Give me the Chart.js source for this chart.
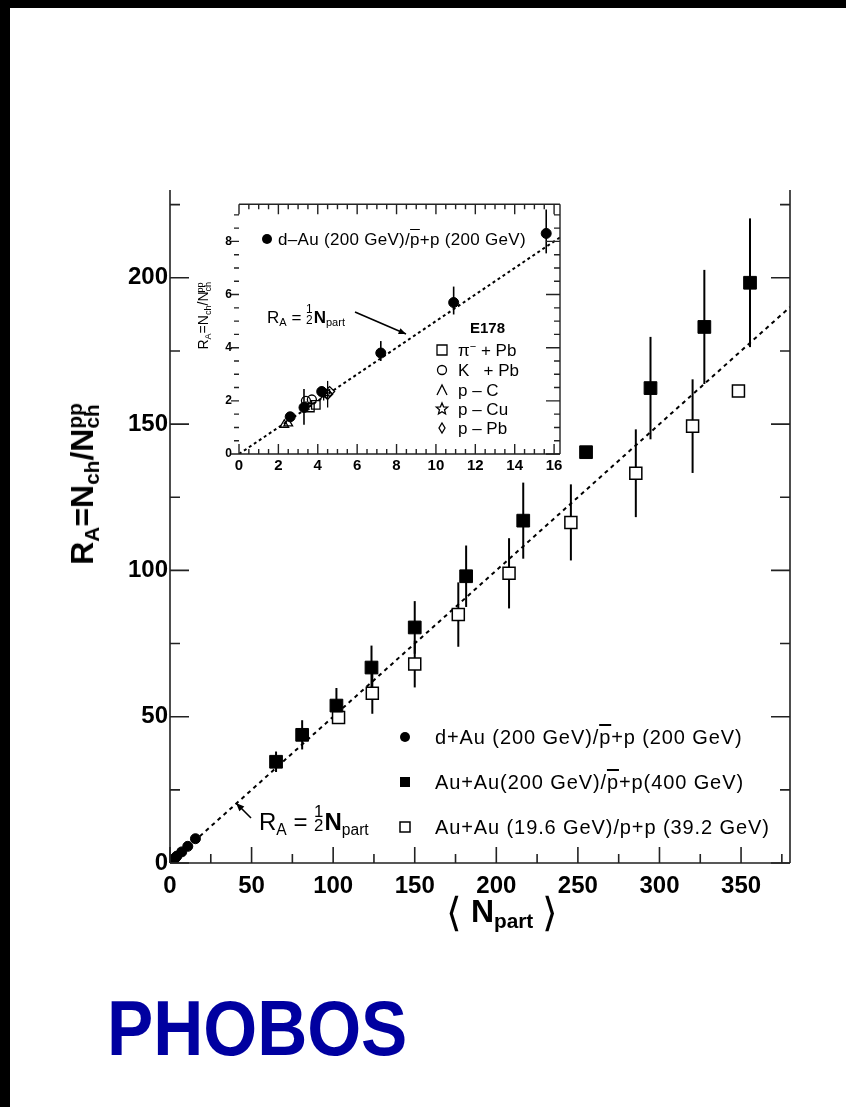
<!DOCTYPE html>
<html lang="en">
<head>
<meta charset="UTF-8">
<title>PHOBOS R_A vs N_part</title>
<script src="https://cdn.jsdelivr.net/npm/chart.js"></script>
<style>
  * { margin: 0; padding: 0; box-sizing: border-box; }
  body { position: relative; width: 846px; height: 1107px; background: #000; overflow: hidden;
         font-family: 'Liberation Sans', Arial, sans-serif; color: #000; }
  #page { position: absolute; left: 10px; top: 8px; right: 0; bottom: 0; background: #fff; }
  canvas { position: absolute; }
  #mainChart { left: 0; top: 0; }
  #insetChart { left: 190px; top: 190px; }
  .t { position: absolute; white-space: nowrap; line-height: 1; }
  .t sub, .t sup { font-size: 0.65em; line-height: 0; vertical-align: baseline; position: relative; }
  .t sub { top: 0.3em; }
  .t sup { top: -0.55em; }
  .ol { text-decoration: overline; }
  .frac { display: inline-flex; flex-direction: column; font-size: 0.7em; line-height: 0.85;
          vertical-align: baseline; position: relative; top: -0.8em; text-align: center; margin-right: 1px; }
  .rot { transform: translate(-50%, -50%) rotate(-90deg); }
  .leg { font-size: 20px; letter-spacing: 0.9px; }
  #phobos { left: 107px; top: 990px; font-size: 77px; font-weight: bold; color: #0000a0;
            transform: scaleX(0.9); transform-origin: left top; }
</style>
</head>
<body>
<div id="page"></div>
<canvas id="mainChart" width="846" height="1107"></canvas>
<canvas id="insetChart" width="380" height="300"></canvas>

<!-- main axis titles -->
<div class="t rot" style="left:82px; top:484px; font-size:32px; font-weight:bold;">R<sub>A</sub>=N<sub>ch</sub>/N<sub>ch</sub><sup style="margin-left:-1.17em">pp</sup></div>
<div class="t" style="left:446px; top:888px; font-size:32px; font-weight:bold;"><span style="font-family:'DejaVu Sans'; font-weight:200; font-size:40px; position:relative; top:4px;">⟨</span> N<sub>part</sub> <span style="font-family:'DejaVu Sans'; font-weight:200; font-size:40px; position:relative; top:4px;">⟩</span></div>

<!-- main legend -->
<div class="t leg" style="left:435px; top:727px;">d+Au (200 GeV)/<span class="ol">p</span>+p (200 GeV)</div>
<div class="t leg" style="left:435px; top:772px;">Au+Au(200 GeV)/<span class="ol">p</span>+p(400 GeV)</div>
<div class="t leg" style="left:435px; top:817px;">Au+Au (19.6 GeV)/p+p (39.2 GeV)</div>

<!-- main annotation -->
<div class="t" style="left:259px; top:810px; font-size:24px;">R<sub>A</sub> = <span class="frac"><span>1</span><span>2</span></span><b>N</b><sub>part</sub></div>

<!-- inset texts -->
<div class="t rot" style="left:203px; top:316px; font-size:14px;">R<sub>A</sub>=N<sub>ch</sub>/N<sub>ch</sub><sup style="margin-left:-1.17em">pp</sup></div>
<div class="t" style="left:278px; top:231px; font-size:17px; letter-spacing:0.3px;">d–Au (200 GeV)/<span class="ol">p</span>+p (200 GeV)</div>
<div class="t" style="left:267px; top:309px; font-size:17px;">R<sub>A</sub> = <span class="frac"><span>1</span><span>2</span></span><b>N</b><sub>part</sub></div>
<div class="t" style="left:470px; top:320px; font-size:15px; font-weight:bold;">E178</div>
<div class="t" style="left:458px; top:342px; font-size:17px;">π<sup>−</sup> + Pb</div>
<div class="t" style="left:458px; top:362px; font-size:17px;">K&nbsp;&nbsp; + Pb</div>
<div class="t" style="left:458px; top:382px; font-size:17px;">p – C</div>
<div class="t" style="left:458px; top:401px; font-size:17px;">p – Cu</div>
<div class="t" style="left:458px; top:420px; font-size:17px;">p – Pb</div>

<div class="t" id="phobos">PHOBOS</div>

<script>
  // d+Au (200 GeV) / pbar+p (200 GeV)
  const dAuN  = [2.6, 3.3, 4.2, 7.2, 10.9, 15.6];
  const dAuR  = [1.4, 1.75, 2.35, 3.8, 5.7, 8.3];
  const dAuHi = [0.1, 0.7, 0.2, 0.45, 0.6, 0.9];
  const dAuLo = [0.1, 0.65, 0.2, 0.3, 0.45, 0.75];

  // Au+Au (200 GeV) / pbar+p (400 GeV)
  const auau200N   = [65, 81, 102, 123.5, 150, 181.5, 216.5, 255, 294.5, 327.5, 355.5];
  const auau200R   = [34.6, 43.8, 53.8, 66.8, 80.5, 98, 117, 140.4, 162.3, 183.2, 198.3];
  const auau200Err = [3.5, 5, 6, 7.5, 9, 10.5, 13, 1, 17.5, 19.5, 22];

  // Au+Au (19.6 GeV) / p+p (39.2 GeV)
  const auau19N   = [103.3, 124, 150, 176.7, 207.8, 245.7, 285.5, 320.3, 348.4];
  const auau19R   = [49.7, 58, 68, 84.9, 99, 116.4, 133.2, 149.3, 161.3];
  const auau19Err = [2, 7, 8, 11, 12, 13, 15, 16, 0];

  // E178 (inset)
  const pimPbN = [3.6, 3.9], pimPbR = [1.75, 1.85];
  const kPbN   = [3.4, 3.7], kPbR   = [2.0, 2.05];
  const pCN    = [2.3, 2.5], pCR    = [1.1, 1.15];
  const pCuN   = [3.4, 4.3], pCuR   = [1.8, 2.2];
  const pPbN   = [4.5, 4.6], pPbR   = [2.25, 2.35];
  const pPbErr = [0.5, 0.1];

  // R_A = 1/2 N_part reference lines
  const lineN = [0, 380], lineR = [0, 190];
  const insetLineN = [0, 16.3], insetLineR = [0, 8.15];

  // tick labels
  const mainXTicks  = [0, 50, 100, 150, 200, 250, 300, 350];
  const mainYTicks  = [0, 50, 100, 150, 200];
  const insetXTicks = [0, 2, 4, 6, 8, 10, 12, 14, 16];
  const insetYTicks = [0, 2, 4, 6, 8];

  const FONT = "'Liberation Sans', Arial, sans-serif";
  const pts = (xs, ys) => xs.map((x, i) => ({ x: x, y: ys[i] }));

  function tickValues(max, minor, major) {
    const out = [];
    for (let i = 0; i * minor <= max + 1e-9; i++) {
      const v = i * minor;
      out.push({ v: v, major: Math.abs(v / major - Math.round(v / major)) < 1e-6 });
    }
    return out;
  }

  // axis lines and tick marks (inward on most sides)
  function framePlugin(cfg) {
    return {
      id: 'frame',
      afterDatasetsDraw(chart) {
        const { ctx, chartArea: a, scales: { x, y } } = chart;
        ctx.save();
        ctx.strokeStyle = '#222';
        ctx.lineWidth = cfg.lw;
        ctx.beginPath();
        cfg.lines.forEach(s => {
          if (s === 'bottom') { ctx.moveTo(a.left, a.bottom); ctx.lineTo(a.right, a.bottom); }
          if (s === 'top') { ctx.moveTo(a.left, a.top); ctx.lineTo(a.right, a.top); }
          if (s === 'left') { ctx.moveTo(a.left, a.bottom); ctx.lineTo(a.left, a.top); }
          if (s === 'right') { ctx.moveTo(a.right, a.bottom); ctx.lineTo(a.right, a.top); }
        });
        ctx.stroke();
        ctx.beginPath();
        Object.keys(cfg.ticks).forEach(side => {
          const t = cfg.ticks[side];
          const sc = (side === 'bottom' || side === 'top') ? x : y;
          tickValues(sc.max, t.minor, t.major).forEach(tv => {
            const len = tv.major ? t.majLen : t.minLen;
            const p = sc.getPixelForValue(tv.v);
            if (side === 'bottom') { ctx.moveTo(p, a.bottom); ctx.lineTo(p, a.bottom - len * t.dir); }
            if (side === 'top') { ctx.moveTo(p, a.top); ctx.lineTo(p, a.top + len * t.dir); }
            if (side === 'left') { ctx.moveTo(a.left, p); ctx.lineTo(a.left + len * t.dir, p); }
            if (side === 'right') { ctx.moveTo(a.right, p); ctx.lineTo(a.right - len * t.dir, p); }
          });
        });
        ctx.stroke();
        ctx.restore();
      }
    };
  }

  // vertical error bars from dataset.errHi / dataset.errLo
  const errorBarPlugin = {
    id: 'errbars',
    beforeDatasetsDraw(chart) {
      const { ctx, scales: { y } } = chart;
      ctx.save();
      ctx.strokeStyle = '#000';
      chart.data.datasets.forEach((ds, i) => {
        if (!ds.errHi) return;
        ctx.lineWidth = ds.errWidth || 2;
        chart.getDatasetMeta(i).data.forEach((el, j) => {
          const hi = ds.errHi[j], lo = ds.errLo[j];
          if (!hi && !lo) return;
          const v = ds.data[j].y;
          ctx.beginPath();
          ctx.moveTo(el.x, y.getPixelForValue(v + hi));
          ctx.lineTo(el.x, y.getPixelForValue(v - lo));
          ctx.stroke();
        });
      });
      ctx.restore();
    }
  };

  function drawArrow(ctx, x1, y1, x2, y2, head) {
    const ang = Math.atan2(y2 - y1, x2 - x1);
    ctx.beginPath();
    ctx.moveTo(x1, y1); ctx.lineTo(x2, y2); ctx.stroke();
    ctx.beginPath();
    ctx.moveTo(x2, y2);
    ctx.lineTo(x2 - head * Math.cos(ang - 0.4), y2 - head * Math.sin(ang - 0.4));
    ctx.lineTo(x2 - head * Math.cos(ang + 0.4), y2 - head * Math.sin(ang + 0.4));
    ctx.closePath(); ctx.fill();
  }

  // legend markers and annotation arrows (canvas pixel positions)
  function decorPlugin(markers, arrows) {
    return {
      id: 'decor',
      afterDraw(chart) {
        const ctx = chart.ctx;
        ctx.save();
        ctx.fillStyle = '#000'; ctx.strokeStyle = '#000';
        markers.forEach(m => {
          const r = m.r, cx = m.cx, cy = m.cy;
          ctx.lineWidth = m.lw || 1.5;
          ctx.beginPath();
          if (m.shape === 'circle') ctx.arc(cx, cy, r, 0, Math.PI * 2);
          if (m.shape === 'square') ctx.rect(cx - r, cy - r, 2 * r, 2 * r);
          if (m.shape === 'triangle') { ctx.moveTo(cx - r, cy + r); ctx.lineTo(cx, cy - r); ctx.lineTo(cx + r, cy + r); }
          if (m.shape === 'diamond') { ctx.moveTo(cx, cy - r); ctx.lineTo(cx + r * 0.6, cy); ctx.lineTo(cx, cy + r); ctx.lineTo(cx - r * 0.6, cy); ctx.closePath(); }
          if (m.shape === 'star') {
            for (let k = 0; k < 10; k++) {
              const rr = k % 2 ? r * 0.45 : r;
              const an = -Math.PI / 2 + k * Math.PI / 5;
              if (k) ctx.lineTo(cx + rr * Math.cos(an), cy + rr * Math.sin(an));
              else ctx.moveTo(cx + rr * Math.cos(an), cy + rr * Math.sin(an));
            }
            ctx.closePath();
          }
          if (m.solid) ctx.fill(); else ctx.stroke();
        });
        arrows.forEach(ar => {
          ctx.lineWidth = ar.lw;
          drawArrow(ctx, ar.x1, ar.y1, ar.x2, ar.y2, ar.head);
        });
        ctx.restore();
      }
    };
  }

  const tickFont = (size) => ({ family: FONT, size: size, weight: 'bold' });

  new Chart(document.getElementById('mainChart'), {
    type: 'scatter',
    data: {
      datasets: [
        { type: 'line', data: pts(lineN, lineR), borderColor: '#000', borderWidth: 2,
          borderDash: [4, 4], pointRadius: 0, fill: false, order: 10 },
        { data: pts(dAuN, dAuR), pointStyle: 'circle', pointRadius: 5,
          backgroundColor: '#000', borderColor: '#000', order: 1 },
        { data: pts(auau200N, auau200R), pointStyle: 'rect', pointRadius: 9,
          backgroundColor: '#000', borderColor: '#000', borderWidth: 1,
          errHi: auau200Err, errLo: auau200Err, errWidth: 2, order: 2 },
        { data: pts(auau19N, auau19R), pointStyle: 'rect', pointRadius: 8.5,
          backgroundColor: '#fff', borderColor: '#000', borderWidth: 1.5,
          errHi: auau19Err, errLo: auau19Err, errWidth: 2, order: 3 }
      ]
    },
    options: {
      responsive: false, animation: false, devicePixelRatio: 1,
      layout: { padding: { top: 190, right: 56, bottom: 0, left: 0 } },
      plugins: { legend: { display: false }, tooltip: { enabled: false } },
      scales: {
        x: {
          type: 'linear', min: 0, max: 380,
          grid: { display: false, drawTicks: false }, border: { display: false },
          afterBuildTicks: s => { s.ticks = mainXTicks.map(v => ({ value: v })); },
          ticks: { padding: 9, color: '#000', font: tickFont(24) },
          afterFit: s => { s.height = 1107 - 863; }
        },
        y: {
          type: 'linear', min: 0, max: 230,
          grid: { display: false, drawTicks: false }, border: { display: false },
          afterBuildTicks: s => { s.ticks = mainYTicks.map(v => ({ value: v })); },
          ticks: { padding: 2, color: '#000', font: tickFont(24) },
          afterFit: s => { s.width = 170; }
        }
      }
    },
    plugins: [
      errorBarPlugin,
      framePlugin({
        lw: 1.6, lines: ['bottom', 'left', 'right'],
        ticks: {
          bottom: { minor: 25, major: 50, majLen: 16, minLen: 9, dir: 1 },
          left:   { minor: 25, major: 50, majLen: 19, minLen: 10, dir: 1 },
          right:  { minor: 25, major: 50, majLen: 19, minLen: 10, dir: 1 }
        }
      }),
      decorPlugin([
        { shape: 'circle', cx: 405, cy: 737, r: 5, solid: true },
        { shape: 'square', cx: 405, cy: 782, r: 5, solid: true },
        { shape: 'square', cx: 405, cy: 827, r: 5, lw: 1.5 }
      ], [{ x1: 251, y1: 818, x2: 236, y2: 803, head: 9, lw: 1.6 }])
    ]
  });

  const ox = 190, oy = 190; // inset canvas offset on the page
  new Chart(document.getElementById('insetChart'), {
    type: 'scatter',
    data: {
      datasets: [
        { type: 'line', data: pts(insetLineN, insetLineR), borderColor: '#000', borderWidth: 2,
          borderDash: [3, 3], pointRadius: 0, fill: false, order: 10 },
        { data: pts(dAuN, dAuR), pointStyle: 'circle', pointRadius: 5,
          backgroundColor: '#000', borderColor: '#000',
          errHi: dAuHi, errLo: dAuLo, errWidth: 1.6, order: 1 },
        { data: pts(pimPbN, pimPbR), pointStyle: 'rect', pointRadius: 6,
          backgroundColor: 'rgba(0,0,0,0)', borderColor: '#000', borderWidth: 1.3, order: 2 },
        { data: pts(kPbN, kPbR), pointStyle: 'circle', pointRadius: 4.5,
          backgroundColor: 'rgba(0,0,0,0)', borderColor: '#000', borderWidth: 1.3, order: 3 },
        { data: pts(pCN, pCR), pointStyle: 'triangle', pointRadius: 5,
          backgroundColor: 'rgba(0,0,0,0)', borderColor: '#000', borderWidth: 1.3, order: 4 },
        { data: pts(pCuN, pCuR), pointStyle: 'star', pointRadius: 5,
          backgroundColor: 'rgba(0,0,0,0)', borderColor: '#000', borderWidth: 1.3, order: 5 },
        { data: pts(pPbN, pPbR), pointStyle: 'rectRot', pointRadius: 5,
          backgroundColor: 'rgba(0,0,0,0)', borderColor: '#000', borderWidth: 1.3,
          errHi: pPbErr, errLo: pPbErr, errWidth: 1.3, order: 6 }
      ]
    },
    options: {
      responsive: false, animation: false, devicePixelRatio: 1,
      layout: { padding: { top: 10, right: 10, bottom: 0, left: 0 } },
      plugins: { legend: { display: false }, tooltip: { enabled: false } },
      scales: {
        x: {
          type: 'linear', min: 0, max: 16.3,
          grid: { display: false, drawTicks: false }, border: { display: false },
          afterBuildTicks: s => { s.ticks = insetXTicks.map(v => ({ value: v })); },
          ticks: { padding: 3, color: '#000', font: tickFont(15) },
          afterFit: s => { s.height = 300 - (454 - oy); }
        },
        y: {
          type: 'linear', min: 0, max: 9.4,
          grid: { display: false, drawTicks: false }, border: { display: false },
          afterBuildTicks: s => { s.ticks = insetYTicks.map(v => ({ value: v })); },
          ticks: { padding: 7, color: '#000', font: tickFont(12) },
          afterFit: s => { s.width = 239 - ox; }
        }
      }
    },
    plugins: [
      errorBarPlugin,
      framePlugin({
        lw: 1.4, lines: ['bottom', 'top', 'right'],
        ticks: {
          bottom: { minor: 0.5, major: 2, majLen: 10, minLen: 5, dir: 1 },
          top:    { minor: 0.5, major: 2, majLen: 10, minLen: 5, dir: 1 },
          left:   { minor: 0.5, major: 2, majLen: 8, minLen: 5, dir: -1 },
          right:  { minor: 0.5, major: 2, majLen: 14, minLen: 6, dir: 1 }
        }
      }),
      decorPlugin([
        { shape: 'circle', cx: 267 - ox, cy: 239 - oy, r: 5, solid: true },
        { shape: 'square', cx: 442 - ox, cy: 350 - oy, r: 5, lw: 1.3 },
        { shape: 'circle', cx: 442 - ox, cy: 370 - oy, r: 4.5, lw: 1.3 },
        { shape: 'triangle', cx: 442 - ox, cy: 390 - oy, r: 5, lw: 1.3 },
        { shape: 'star', cx: 442 - ox, cy: 409 - oy, r: 6, lw: 1.3 },
        { shape: 'diamond', cx: 442 - ox, cy: 428 - oy, r: 5, lw: 1.3 }
      ], [{ x1: 355 - ox, y1: 312 - oy, x2: 406 - ox, y2: 334 - oy, head: 8, lw: 1.6 }])
    ]
  });
</script>
</body>
</html>
